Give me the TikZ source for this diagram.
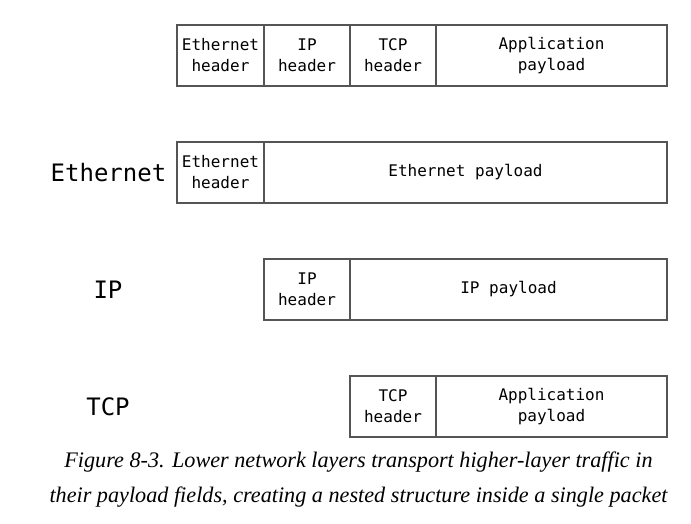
\documentclass[tikz,border=0pt]{standalone}
\usepackage{fontspec}
\setmonofont{DejaVu Sans Mono}
\newfontfamily\capfont{Liberation Serif}
\definecolor{boxline}{HTML}{555555}
\tikzset{
  field/.style={draw=boxline, line width=1.6pt, minimum height=61pt, inner sep=0pt,
    align=center, font=\ttfamily\fontsize{16}{21}\selectfont},
  layer/.style={font=\ttfamily\fontsize{24}{28}\selectfont}
}
\begin{document}
\begin{tikzpicture}[x=1pt,y=-1pt]
\useasboundingbox (0,0) rectangle (691,524);
% full packet
\node [field, minimum width=87pt] (ethh1) at (220.5,55.5) {Ethernet\\header};
\node [field, minimum width=86pt] (iph1) at (307,55.5) {IP\\header};
\node [field, minimum width=86pt] (tcph1) at (393,55.5) {TCP\\header};
\node [field, minimum width=231pt] (app1) at (551.5,55.5) {Application\\payload};
% Ethernet layer
\node [layer] (ethl) at (108.5,172.5) {Ethernet};
\node [field, minimum width=87pt] (ethh2) at (220.5,172.5) {Ethernet\\header};
\node [field, minimum width=403pt] (ethp) at (465.5,172.5) {Ethernet payload};
% IP layer
\node [layer] (ipl) at (108,289.5) {IP};
\node [field, minimum width=86pt] (iph3) at (307,289.5) {IP\\header};
\node [field, minimum width=317pt] (ipp) at (508.5,289.5) {IP payload};
% TCP layer
\node [layer] (tcpl) at (108,406.5) {TCP};
\node [field, minimum width=86pt] (tcph4) at (393,406.5) {TCP\\header};
\node [field, minimum width=231pt] (app4) at (551.5,406.5) {Application\\payload};
% caption
\node [font=\capfont\itshape\fontsize{22.2}{35}\selectfont, align=center] (cap) at (358.5,479.5)
  {Figure 8-3. Lower network layers transport higher-layer traffic in\\their payload fields, creating a nested structure inside a single packet};
\end{tikzpicture}
\end{document}
